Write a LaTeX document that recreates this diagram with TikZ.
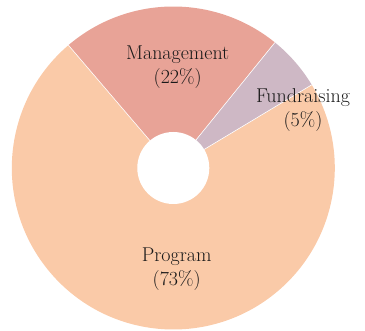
\documentclass[tikz,border=0pt]{standalone}
\usepackage{xcolor}
\usepackage{tikz}
\usetikzlibrary{positioning, calc}
\definecolor{programpeach}{RGB}{250, 202, 168}
\definecolor{managementrose}{RGB}{232, 163, 151}
\definecolor{fundraisinglilac}{RGB}{206, 184, 197}

\begin{document}
\begin{tikzpicture}[x=1pt, y=1pt,
    slicelabel/.style={align=center, text=black!90, font=\fontsize{20}{24}\selectfont}]
    \useasboundingbox (-173.3,-163) rectangle (191.7,168);

    % slices
    \fill[programpeach] (0,0) -- (130.5:161.5) arc[start angle=130.5, end angle=391, radius=161.5] -- cycle;
    \fill[managementrose] (0,0) -- (51:161.5) arc[start angle=51, end angle=130.5, radius=161.5] -- cycle;
    \fill[fundraisinglilac] (0,0) -- (31:161.5) arc[start angle=31, end angle=51, radius=161.5] -- cycle;

    \draw[white, line width=0.6pt] (0,0) -- (130.5:161.5);
    \draw[white, line width=0.6pt] (0,0) -- (51:161.5);
    \draw[white, line width=0.6pt] (0,0) -- (31:161.5);

    % hole
    \fill[white] (0,0) circle (36);

    \node[slicelabel] (management) at (4.4,101) {Management\\(22\%)};
    \node[slicelabel] (fundraising) at (129.7,57.5) {Fundraising\\(5\%)};
    \node[slicelabel] (program) at (3.4,-100.8) {Program\\(73\%)};
\end{tikzpicture}
\end{document}
